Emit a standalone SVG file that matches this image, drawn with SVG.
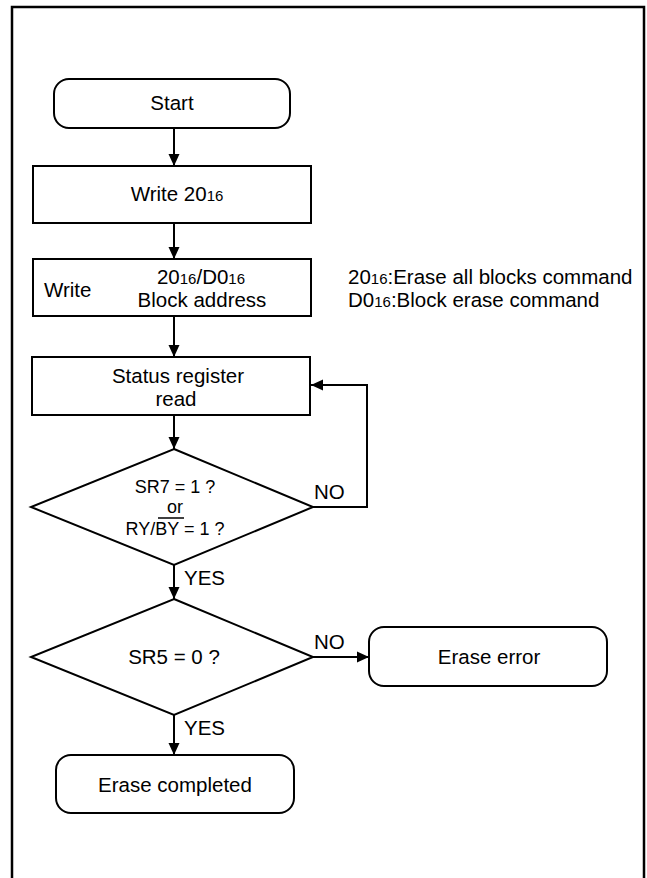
<svg xmlns="http://www.w3.org/2000/svg" width="647" height="878" viewBox="0 0 647 878">
<defs>
<style>
.s{fill:#fff;stroke:#000;stroke-width:2}
.t{font-family:"Liberation Sans",Arial,sans-serif;font-size:20.5px;fill:#000}
.m{font-family:"Liberation Sans",Arial,sans-serif;font-size:18px;fill:#000}
.c{text-anchor:middle}
.sub{font-size:15px}
.ln{fill:none;stroke:#000;stroke-width:2}
</style>
<marker id="ah" viewBox="0 0 12 12" refX="12" refY="6" markerWidth="12" markerHeight="12" markerUnits="userSpaceOnUse" orient="auto">
<path d="M0,0.5 L12,6 L0,11.5 Z" fill="#000"/>
</marker>
</defs>
<rect width="647" height="878" fill="#fff"/>
<path d="M12,878 V7 H644 V878" fill="none" stroke="#000" stroke-width="2.5"/>

<g id="start">
<rect class="s" x="54" y="79" width="236" height="49" rx="15"/>
<text class="t c" x="172" y="110">Start</text>
</g>
<g id="write20">
<rect class="s" x="33" y="166" width="278" height="57"/>
<text class="t c" x="177" y="201">Write 20<tspan class="sub">16</tspan></text>
</g>
<g id="writeblock">
<rect class="s" x="33" y="259" width="278" height="57"/>
<text class="t" x="44" y="297">Write</text>
<text class="t c" x="201" y="284">20<tspan class="sub">16</tspan>/D0<tspan class="sub">16</tspan></text>
<text class="t c" x="202" y="307">Block address</text>
</g>
<g id="notes">
<text class="t" x="348" y="284">20<tspan class="sub">16</tspan>:Erase all blocks command</text>
<text class="t" x="348" y="307">D0<tspan class="sub">16</tspan>:Block erase command</text>
</g>
<g id="status">
<rect class="s" x="32" y="357" width="278" height="58"/>
<text class="t c" x="178" y="383">Status register</text>
<text class="t c" x="176" y="406">read</text>
</g>
<g id="decision1">
<polygon class="s" points="174,449 313,507 174,565 31,507"/>
<text class="m c" x="175" y="493">SR7 = 1 ?</text>
<text class="m c" x="175" y="513">or</text>
<text class="m c" x="175" y="535">RY/BY = 1 ?</text>
<line x1="158" y1="518" x2="184" y2="518" stroke="#000" stroke-width="1.5"/>
</g>
<g id="decision2">
<polygon class="s" points="174,599 313,657 174,715 31,657"/>
<text class="t c" x="174" y="664">SR5 = 0 ?</text>
</g>
<g id="error">
<rect class="s" x="369" y="627" width="238" height="59" rx="15"/>
<text class="t c" x="489" y="664">Erase error</text>
</g>
<g id="completed">
<rect class="s" x="56" y="755" width="238" height="58" rx="15"/>
<text class="t c" x="175" y="792">Erase completed</text>
</g>

<g id="connectors">
<line class="ln" x1="174" y1="128" x2="174" y2="166" marker-end="url(#ah)"/>
<line class="ln" x1="174" y1="223" x2="174" y2="259" marker-end="url(#ah)"/>
<line class="ln" x1="174" y1="316" x2="174" y2="357" marker-end="url(#ah)"/>
<line class="ln" x1="174" y1="415" x2="174" y2="449" marker-end="url(#ah)"/>
<polyline class="ln" points="313,507 367,507 367,385 311,385" marker-end="url(#ah)"/>
<line class="ln" x1="174" y1="565" x2="174" y2="599" marker-end="url(#ah)"/>
<line class="ln" x1="313" y1="657" x2="369" y2="657" marker-end="url(#ah)"/>
<line class="ln" x1="174" y1="715" x2="174" y2="755" marker-end="url(#ah)"/>
<text class="t" x="314" y="499">NO</text>
<text class="t" x="184" y="585">YES</text>
<text class="t" x="314" y="649">NO</text>
<text class="t" x="184" y="735">YES</text>
</g>
</svg>
